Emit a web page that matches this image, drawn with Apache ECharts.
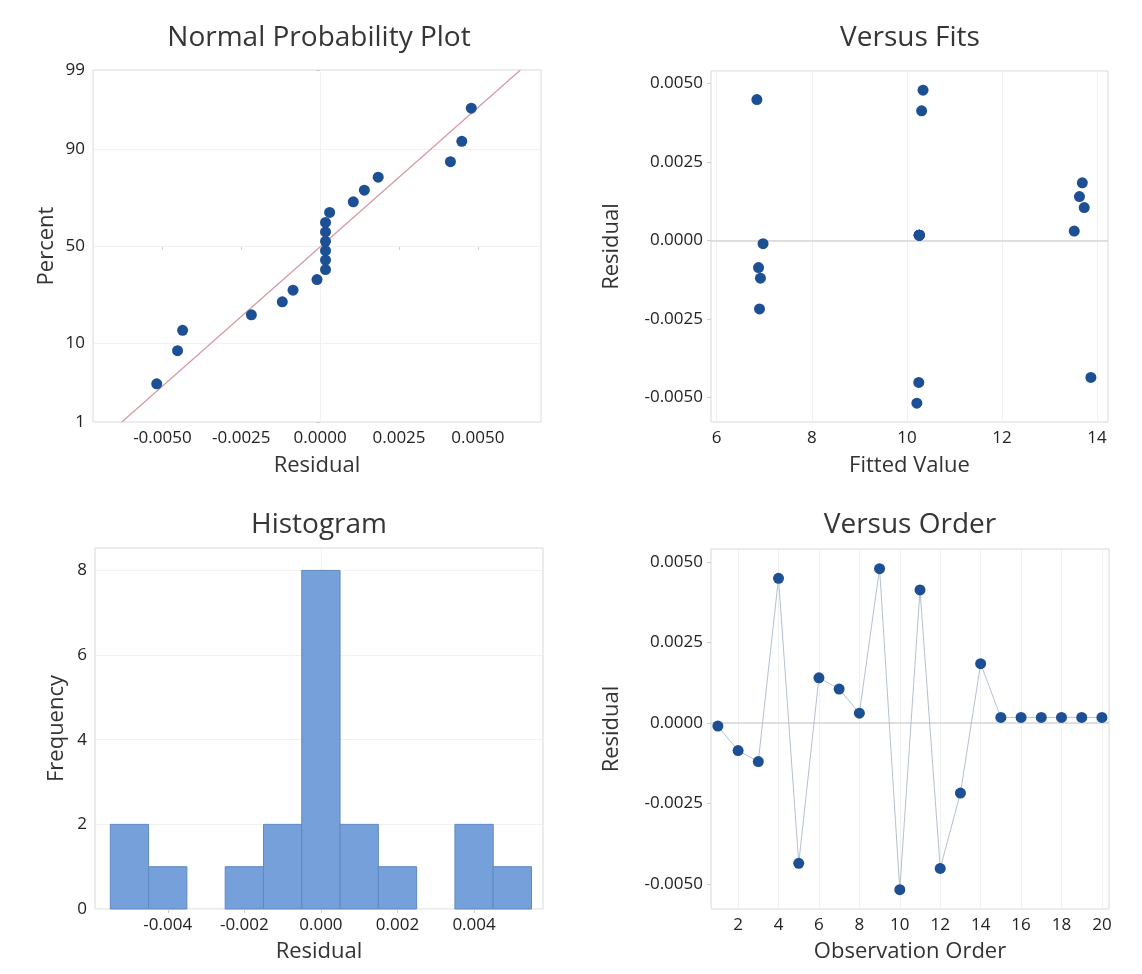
<!DOCTYPE html>
<html>
<head>
<meta charset="utf-8">
<script src="https://cdn.jsdelivr.net/npm/echarts@6/dist/echarts.min.js"></script>
<style>
  html, body { margin: 0; padding: 0; background: #ffffff; }
  #chart { width: 1142px; height: 974px; }
</style>
</head>
<body>
<div id="chart"></div>
<script>
// ---- Residual diagnostics data (by observation order) ----
const observationOrder = [1, 2, 3, 4, 5, 6, 7, 8, 9, 10, 11, 12, 13, 14, 15, 16, 17, 18, 19, 20];
const fittedValues = [6.975, 6.88, 6.92, 6.845, 13.87, 13.63, 13.73, 13.52, 10.34, 10.21,
                      10.31, 10.25, 6.90, 13.69, 10.26, 10.26, 10.26, 10.26, 10.26, 10.26];
const residuals = [-0.0001, -0.00086, -0.0012, 0.00449, -0.00436, 0.0014, 0.00105, 0.0003, 0.00479, -0.00518,
                   0.00413, -0.00452, -0.00218, 0.00184, 0.00017, 0.00017, 0.00017, 0.00017, 0.00017, 0.00017];

// Plotting positions (percent) of the ranked residuals
const normalPercent = [3.43, 8.33, 13.24, 18.14, 23.04, 27.94, 32.84, 37.75, 42.65, 47.55,
                       52.45, 57.35, 62.25, 67.16, 72.06, 76.96, 81.86, 86.76, 91.67, 96.57];

// Histogram bins of the residuals
const binCenters = [-0.005, -0.004, -0.003, -0.002, -0.001, 0, 0.001, 0.002, 0.003, 0.004, 0.005];
const binCounts  = [2, 1, 0, 1, 2, 8, 2, 1, 0, 2, 1];
const binWidth = 0.001;

// Tick positions
const percentTicks = [1, 10, 50, 90, 99];
const residualTicks = [-0.005, -0.0025, 0, 0.0025, 0.005];
const fittedTicks = [6, 8, 10, 12, 14];
const histResidualTicks = [-0.004, -0.002, 0, 0.002, 0.004];
const frequencyTicks = [0, 2, 4, 6, 8];
const orderTicks = [2, 4, 6, 8, 10, 12, 14, 16, 18, 20];

// ---- helpers ----
// inverse standard normal CDF (Acklam)
function normInv(p) {
  const a = [-3.969683028665376e+01, 2.209460984245205e+02, -2.759285104469687e+02, 1.383577518672690e+02, -3.066479806614716e+01, 2.506628277459239e+00];
  const b = [-5.447609879822406e+01, 1.615858368580409e+02, -1.556989798598866e+02, 6.680131188771972e+01, -1.328068155288572e+01];
  const c = [-7.784894002430293e-03, -3.223964580411365e-01, -2.400758277161838e+00, -2.549732539343734e+00, 4.374664141464968e+00, 2.938163982698783e+00];
  const d = [7.784695709041462e-03, 3.224671290700398e-01, 2.445134137142996e+00, 3.754408661907416e+00];
  const pl = 0.02425, ph = 1 - pl;
  let q, r;
  if (p < pl) {
    q = Math.sqrt(-2 * Math.log(p));
    return (((((c[0]*q+c[1])*q+c[2])*q+c[3])*q+c[4])*q+c[5]) / ((((d[0]*q+d[1])*q+d[2])*q+d[3])*q+1);
  }
  if (p <= ph) {
    q = p - 0.5; r = q * q;
    return (((((a[0]*r+a[1])*r+a[2])*r+a[3])*r+a[4])*r+a[5])*q / (((((b[0]*r+b[1])*r+b[2])*r+b[3])*r+b[4])*r+1);
  }
  q = Math.sqrt(-2 * Math.log(1 - p));
  return -(((((c[0]*q+c[1])*q+c[2])*q+c[3])*q+c[4])*q+c[5]) / ((((d[0]*q+d[1])*q+d[2])*q+d[3])*q+1);
}

const FONT = "'Open Sans', 'Noto Sans', sans-serif";
const TEXT = '#333333';
const DOT = '#1c4f93';
const FRAME = '#d9d9d9';
const GRIDLINE = '#f1f1f1';

// normal probability scale: percent -> z
const zMin = normInv(0.01), zMax = normInv(0.99);
const zTicks = percentTicks.map(p => normInv(p / 100));

// fitted normal line from the residuals
const n = residuals.length;
const mean = residuals.reduce((s, v) => s + v, 0) / n;
const sd = Math.sqrt(residuals.reduce((s, v) => s + (v - mean) * (v - mean), 0) / (n - 1));
const sortedResiduals = residuals.slice().sort((x, y) => x - y);
const normalPoints = sortedResiduals.map((v, i) => [v, normInv(normalPercent[i] / 100)]);
const fitLine = [[mean + sd * zMin, zMin], [mean + sd * zMax, zMax]];

const fmt4 = v => (Math.abs(v) < 1e-12 ? 0 : v).toFixed(4);
const fmt3 = v => (Math.abs(v) < 1e-12 ? 0 : v).toFixed(3);
const fmtInt = v => String(Math.round(v));
const fmtPct = v => {
  let best = 0;
  zTicks.forEach((z, i) => { if (Math.abs(z - v) < Math.abs(zTicks[best] - v)) best = i; });
  return String(percentTicks[best]);
};

function axis(gridIndex, min, max, ticks, formatter, name, nameGap) {
  return {
    type: 'value', gridIndex, min, max,
    name, nameLocation: 'middle', nameGap,
    nameTextStyle: { fontFamily: FONT, fontSize: 22, color: TEXT },
    axisLine: { show: false },
    axisTick: { show: true, customValues: ticks, length: 4, lineStyle: { color: '#cfcfcf' } },
    axisLabel: { customValues: ticks, formatter, fontFamily: FONT, fontSize: 17, color: '#222222', margin: 8 },
    splitLine: { show: false }
  };
}

// faint gridlines plus optional zero reference line, drawn beneath the data
function gridLines(xIndex, yIndex, xs, ys, zeroLine) {
  const data = xs.map(v => ({ xAxis: v })).concat(ys.map(v => ({ yAxis: v })));
  if (zeroLine) data.push({ yAxis: 0, lineStyle: { color: '#d6d6d6', width: 1.6, type: 'solid' } });
  return {
    type: 'scatter', xAxisIndex: xIndex, yAxisIndex: yIndex, data: [], z: 1, silent: true,
    markLine: {
      silent: true, symbol: 'none', animation: false, z: 1,
      label: { show: false },
      lineStyle: { color: GRIDLINE, width: 1, type: 'solid' },
      data
    }
  };
}

function titleText(text, x, y) {
  return {
    type: 'text', x, y,
    style: { text, fontFamily: FONT, fontSize: 28, fill: '#353535', align: 'center', verticalAlign: 'middle',
             textAlign: 'center', textVerticalAlign: 'middle' }
  };
}

const grids = [
  { left: 93,  top: 70,  width: 448, height: 352 },
  { left: 711, top: 71,  width: 397, height: 351 },
  { left: 95,  top: 548, width: 448, height: 361 },
  { left: 711, top: 549, width: 398, height: 360 }
].map(g => Object.assign({ show: true, borderColor: FRAME, borderWidth: 1, backgroundColor: '#ffffff' }, g));

const option = {
  animation: false,
  backgroundColor: '#ffffff',
  textStyle: { fontFamily: FONT },
  graphic: [
    titleText('Normal Probability Plot', 319, 38),
    titleText('Versus Fits', 910, 38),
    titleText('Histogram', 319, 525),
    titleText('Versus Order', 910, 525)
  ],
  grid: grids,
  xAxis: [
    axis(0, -0.0072, 0.0070, residualTicks, fmt4, 'Residual', 33),
    axis(1, 5.88, 14.23, fittedTicks, fmtInt, 'Fitted Value', 33),
    axis(2, -0.0059, 0.0058, histResidualTicks, fmt3, 'Residual', 32),
    axis(3, 0.66, 20.35, orderTicks, fmtInt, 'Observation Order', 32)
  ],
  yAxis: [
    axis(0, zMin, zMax, zTicks, fmtPct, 'Percent', 35),
    axis(1, -0.00578, 0.0054, residualTicks, fmt4, 'Residual', 88),
    axis(2, 0, 8.53, frequencyTicks, fmtInt, 'Frequency', 27),
    axis(3, -0.00578, 0.0054, residualTicks, fmt4, 'Residual', 88)
  ],
  series: [
    // Normal probability plot
    gridLines(0, 0, residualTicks, zTicks, false),
    {
      type: 'line', xAxisIndex: 0, yAxisIndex: 0, data: fitLine, z: 2,
      symbol: 'none', lineStyle: { color: '#d797a2', width: 1.2 }
    },
    {
      type: 'scatter', xAxisIndex: 0, yAxisIndex: 0, data: normalPoints, z: 3,
      symbol: 'circle', symbolSize: 11, itemStyle: { color: DOT, opacity: 1 }
    },
    // Versus fits
    gridLines(1, 1, fittedTicks, residualTicks, true),
    {
      type: 'scatter', xAxisIndex: 1, yAxisIndex: 1, z: 3,
      data: fittedValues.map((f, i) => [f, residuals[i]]),
      symbol: 'circle', symbolSize: 11, itemStyle: { color: DOT, opacity: 1 }
    },
    // Histogram
    gridLines(2, 2, histResidualTicks, frequencyTicks, false),
    {
      type: 'custom', xAxisIndex: 2, yAxisIndex: 2, z: 3,
      data: binCenters.map((c, i) => [c, binCounts[i]]),
      renderItem: function (params, api) {
        const c = api.value(0), cnt = api.value(1);
        if (!cnt) return null;
        const p0 = api.coord([c - binWidth / 2, cnt]);
        const p1 = api.coord([c + binWidth / 2, 0]);
        return {
          type: 'rect', z2: 10,
          shape: { x: p0[0], y: p0[1], width: p1[0] - p0[0], height: p1[1] - p0[1] },
          style: { fill: '#75a0d9', stroke: '#5f89c3', lineWidth: 1 }
        };
      }
    },
    // Versus order
    gridLines(3, 3, orderTicks, residualTicks, true),
    {
      type: 'line', xAxisIndex: 3, yAxisIndex: 3, z: 3,
      data: observationOrder.map((o, i) => [o, residuals[i]]),
      symbol: 'circle', symbolSize: 11, showSymbol: true,
      lineStyle: { color: '#b4c1d2', width: 1 },
      itemStyle: { color: DOT, opacity: 1 }
    }
  ]
};

const chart = echarts.init(document.getElementById('chart'), null, { renderer: 'canvas' });
chart.setOption(option);
</script>
</body>
</html>
